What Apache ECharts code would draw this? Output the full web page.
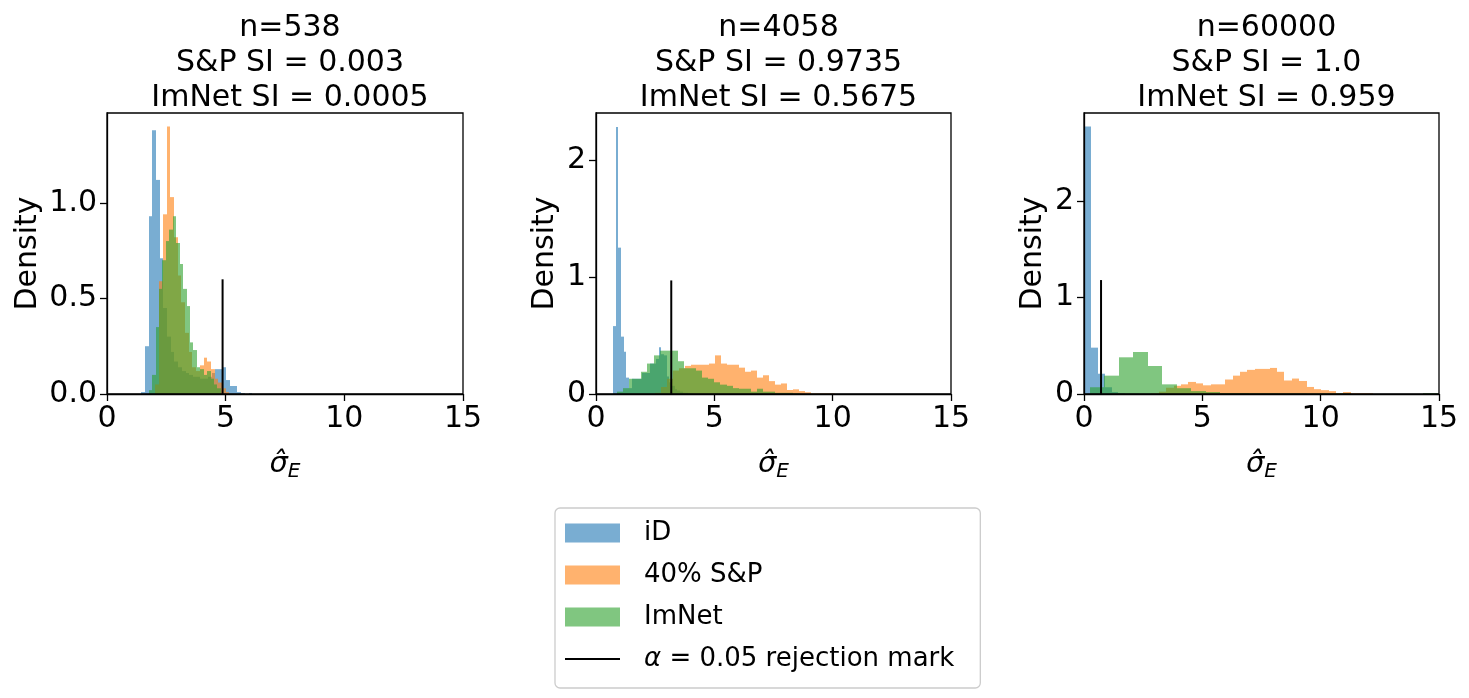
<!DOCTYPE html>
<html>
<head>
<meta charset="utf-8">
<script src="https://cdn.jsdelivr.net/npm/echarts@6/dist/echarts.min.js"></script>
<style>
html, body { margin: 0; padding: 0; background: #fff; }
#chart { width: 1469px; height: 698px; }
</style>
</head>
<body>
<div id="chart"></div>
<script>
var FONT = 'DejaVu Sans';

var panelTitles = [
    'n=538\nS&P SI = 0.003\nImNet SI = 0.0005',
    'n=4058\nS&P SI = 0.9735\nImNet SI = 0.5675',
    'n=60000\nS&P SI = 1.0\nImNet SI = 0.959'
];
var seriesNames = ['iD', '40% S&P', 'ImNet'];
var markName = 'α = 0.05 rejection mark';
var xTicks = [0, 5, 10, 15];
var yTicks = [[0, 0.5, 1.0], [0, 1, 2], [0, 1, 2]];
var yMax = [1.47, 2.40, 2.91];

// histograms: first bin edge, bin width, density per bin
var idStart = [1.44, 0.72, 0.03];
var idWidth = [0.156, 0.113, 0.285];
var idDensity1 = [0.01, 0.25, 0.93, 1.38, 1.12, 0.71, 0.45, 0.30, 0.22, 0.17, 0.14, 0.12, 0.11, 0.10, 0.09,
                  0.09, 0.08, 0.08, 0.09, 0.11, 0.13, 0.13, 0.14, 0.073, 0.042, 0.042, 0.01, 0.005, 0, 0.005];
var idDensity2 = [0.58, 2.28, 1.25, 0.49, 0.36, 0.14, 0.05, 0.13, 0.13, 0.13, 0.13, 0.18, 0.18, 0.18, 0.26,
                  0.26, 0.30, 0.40, 0.34, 0.33, 0.15, 0.10, 0.07, 0.04, 0.03, 0.02, 0.01, 0.01, 0.005, 0.005];
var idDensity3 = [2.77, 0.48, 0.21, 0.07, 0.02, 0.01, 0.005, 0.005, 0.003, 0.002];

var spStart = [2.04, 2.48, 2.85];
var spWidth = [0.156, 0.254, 0.312];
var spDensity1 = [0.05, 0.59, 0.94, 1.40, 1.03, 0.82, 0.62, 0.48, 0.32, 0.22, 0.14, 0.12, 0.15, 0.19, 0.17,
                  0.13, 0.08, 0.06, 0.03, 0.01];
var spDensity2 = [0.01, 0.06, 0.13, 0.20, 0.22, 0.24, 0.25, 0.25, 0.25, 0.26, 0.33, 0.26, 0.25, 0.25, 0.225,
                  0.19, 0.20, 0.14, 0.16, 0.11, 0.08, 0.09, 0.034, 0.04, 0.025, 0.015, 0.005, 0.005, 0.005, 0.005];
var spDensity3 = [0.005, 0.024, 0.065, 0.085, 0.10, 0.125, 0.11, 0.09, 0.10, 0.10, 0.15, 0.19, 0.23, 0.25, 0.26,
                  0.26, 0.27, 0.23, 0.14, 0.16, 0.135, 0.073, 0.05, 0.04, 0.03, 0.007, 0.02, 0.008, 0.008, 0.008];

var gnStart = [1.755, 0.89, 0.24];
var gnWidth = [0.145, 0.257, 0.613];
var gnDensity1 = [0.02, 0.10, 0.35, 0.55, 0.70, 0.80, 0.86, 0.93, 0.79, 0.68, 0.55, 0.46, 0.27, 0.23, 0.14,
                  0.13, 0.10, 0.12, 0.08, 0.05, 0.03];
var gnDensity2 = [0.02, 0.05, 0.13, 0.13, 0.19, 0.26, 0.33, 0.37, 0.37, 0.37, 0.28, 0.22, 0.22, 0.20, 0.14,
                  0.13, 0.10, 0.08, 0.07, 0.05, 0.045, 0.045, 0.02, 0.045, 0.02, 0.02, 0.01, 0.01, 0.01, 0.005];
var gnDensity3 = [0.07, 0.19, 0.38, 0.435, 0.29, 0.10, 0.06, 0.03, 0.02, 0.01, 0.01, 0.008, 0.008, 0.007, 0.007,
                  0.005, 0.007, 0.007, 0, 0, 0, 0, 0, 0.01];

// rejection mark: x position and height
var markX = [4.87, 3.18, 0.72];
var markH = [0.60, 0.97, 1.18];

var idDensity = [idDensity1, idDensity2, idDensity3];
var spDensity = [spDensity1, spDensity2, spDensity3];
var gnDensity = [gnDensity1, gnDensity2, gnDensity3];

var colors = ['rgba(31,119,180,0.6)', 'rgba(255,127,14,0.6)', 'rgba(44,160,44,0.6)'];
var grids = [
    { left: 107, top: 113, width: 356, height: 281 },
    { left: 596, top: 113, width: 355, height: 281 },
    { left: 1084, top: 113, width: 355, height: 281 }
];
var yNameGap = [64, 36, 36];

var binData = function(start, width, dens) {
    return dens.map(function(h, i) {
        return [start + i * width, start + (i + 1) * width, h];
    });
};

// snap bin edges to whole pixels so neighbouring bins leave no seams
var renderBin = function(params, api) {
    var a = api.coord([api.value(0), api.value(2)]);
    var b = api.coord([api.value(1), 0]);
    var x0 = Math.round(a[0]), x1 = Math.round(b[0]);
    return {
        type: 'rect',
        shape: { x: x0, y: a[1], width: x1 - x0, height: b[1] - a[1] },
        style: api.style()
    };
};

var myChart = echarts.init(document.getElementById('chart'));

var titles = [], xAxes = [], yAxes = [], series = [];
grids.forEach(function(g, k) {
    g.show = true;
    g.borderColor = '#000';
    g.borderWidth = 1.3;
    g.backgroundColor = 'transparent';
    g.z = 6;

    titles.push({
        text: panelTitles[k],
        left: g.left + g.width / 2,
        textAlign: 'center',
        top: 6,
        textStyle: { fontFamily: FONT, fontSize: 30, fontWeight: 'normal', color: '#000', lineHeight: 35 }
    });

    xAxes.push({
        gridIndex: k,
        type: 'value',
        min: 0,
        max: 15,
        interval: 5,
        z: 6,
        name: '{a|σ̂}{b|E}',
        nameLocation: 'middle',
        nameGap: 52,
        nameTextStyle: {
            rich: {
                a: { fontFamily: FONT, fontSize: 29, fontStyle: 'italic', color: '#000' },
                b: { fontFamily: FONT, fontSize: 20, fontStyle: 'italic', color: '#000', padding: [16, 0, 0, 0] }
            }
        },
        axisLine: { show: true, lineStyle: { color: '#000', width: 1.3 } },
        axisTick: { show: true, length: 7, lineStyle: { color: '#000', width: 1.3 }, customValues: xTicks },
        axisLabel: { fontFamily: FONT, fontSize: 30, color: '#000', margin: 10, customValues: xTicks },
        splitLine: { show: false }
    });

    yAxes.push({
        gridIndex: k,
        type: 'value',
        min: 0,
        max: yMax[k],
        z: 6,
        name: 'Density',
        nameLocation: 'middle',
        nameGap: yNameGap[k],
        nameRotate: 90,
        nameTextStyle: { fontFamily: FONT, fontSize: 30, color: '#000' },
        axisLine: { show: true, lineStyle: { color: '#000', width: 1.3 } },
        axisTick: { show: true, length: 7, lineStyle: { color: '#000', width: 1.3 }, customValues: yTicks[k] },
        axisLabel: {
            fontFamily: FONT, fontSize: 30, color: '#000', margin: 10, customValues: yTicks[k],
            formatter: function(v) { return k === 0 ? v.toFixed(1) : String(Math.round(v)); }
        },
        splitLine: { show: false }
    });

    var hist = [
        binData(idStart[k], idWidth[k], idDensity[k]),
        binData(spStart[k], spWidth[k], spDensity[k]),
        binData(gnStart[k], gnWidth[k], gnDensity[k])
    ];
    hist.forEach(function(d, s) {
        series.push({
            type: 'custom',
            name: seriesNames[s],
            xAxisIndex: k,
            yAxisIndex: k,
            z: 2 + s,
            itemStyle: { color: colors[s] },
            encode: { x: [0, 1], y: 2 },
            renderItem: renderBin,
            data: d
        });
    });

    series.push({
        type: 'line',
        name: markName,
        xAxisIndex: k,
        yAxisIndex: k,
        z: 5,
        symbol: 'none',
        lineStyle: { color: '#000', width: 2 },
        itemStyle: { color: '#000' },
        data: [[markX[k], 0], [markX[k], markH[k]]]
    });
});

var option = {
    animation: false,
    backgroundColor: '#fff',
    title: titles,
    grid: grids,
    xAxis: xAxes,
    yAxis: yAxes,
    legend: {
        orient: 'vertical',
        left: 555,
        top: 508,
        padding: [12, 26, 16, 10],
        itemWidth: 55,
        itemHeight: 19,
        itemGap: 16,
        borderColor: '#cccccc',
        borderWidth: 1.3,
        borderRadius: 5,
        data: [
            { name: 'iD', icon: 'rect' },
            { name: '40% S&P', icon: 'rect' },
            { name: 'ImNet', icon: 'rect' },
            { name: markName, icon: 'path://M0,0H110V4H0Z' }
        ],
        formatter: function(name) {
            return name === markName ? '{i|α} = 0.05 rejection mark' : name;
        },
        textStyle: {
            fontFamily: FONT, fontSize: 26, color: '#000', padding: [0, 0, 0, 19],
            rich: { i: { fontFamily: FONT, fontSize: 26, fontStyle: 'italic', color: '#000' } }
        }
    },
    series: series
};

myChart.setOption(option);
</script>
</body>
</html>
